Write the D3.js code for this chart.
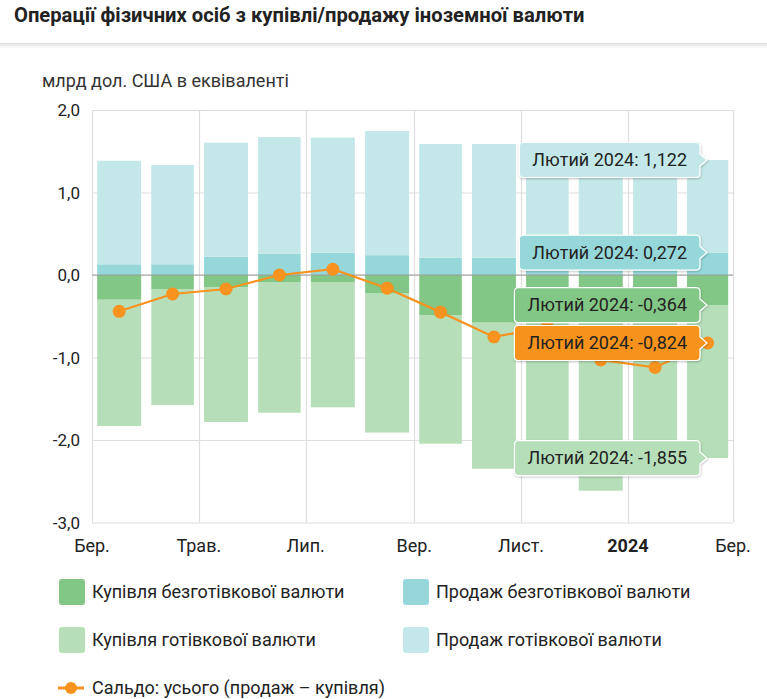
<!DOCTYPE html>
<html><head><meta charset="utf-8">
<script src="https://cdn.jsdelivr.net/npm/d3@7/dist/d3.min.js"></script>
<style>
body{margin:0;background:#fff;}
svg{display:block;font-family:Roboto,"Noto Sans",sans-serif;}
</style></head>
<body><svg id="c" width="767" height="699"></svg>
<script>
// ---- data ----
const months = ["2023-03","2023-04","2023-05","2023-06","2023-07","2023-08","2023-09","2023-10","2023-11","2023-12","2024-01","2024-02"];
const salesNonCash = [0.13, 0.13, 0.22, 0.26, 0.27, 0.24, 0.21, 0.21, 0.20, 0.21, 0.22, 0.272];
const salesCash = [1.255, 1.203, 1.384, 1.413, 1.395, 1.505, 1.378, 1.378, 1.37, 1.375, 1.08, 1.122];
const buyNonCash = [-0.30, -0.17, -0.145, -0.085, -0.085, -0.226, -0.485, -0.578, -0.55, -0.50, -0.45, -0.364];
const buyCash = [-1.53, -1.406, -1.637, -1.584, -1.519, -1.684, -1.56, -1.77, -1.65, -2.115, -1.97, -1.855];
const saldo = [-0.44, -0.23, -0.17, 0.00, 0.07, -0.16, -0.45, -0.75, -0.63, -1.03, -1.12, -0.824];
const yTicks = [-3, -2, -1, 0, 1, 2];
const xTickLabels = ["Бер.", "Трав.", "Лип.", "Вер.", "Лист.", "2024", "Бер."];
const seriesNames = ["Купівля безготівкової валюти", "Продаж безготівкової валюти", "Купівля готівкової валюти", "Продаж готівкової валюти", "Сальдо: усього (продаж – купівля)"];
const title = "Операції фізичних осіб з купівлі/продажу іноземної валюти";
const yTitle = "млрд дол. США в еквіваленті";
const tooltipMonth = "Лютий 2024";

const C = {buyNC:"#82c785", buyC:"#b6dfb9", sellNC:"#96d8da", sellC:"#c4e8e9", saldo:"#f7931e"};

const svg = d3.select("#c");
const parse = d3.timeParse("%Y-%m");
const dates = months.map(parse);

const x = d3.scaleTime().domain([new Date(2023,2,1), new Date(2024,2,1)]).range([92, 733]);
const y = d3.scaleLinear().domain([-3, 2]).range([522.5, 110]);
const fmt = v => d3.format(".1f")(v).replace(".", ",").replace("−","-");
const fmt3 = v => d3.format(".3f")(v).replace(".", ",").replace("−","-");

// title
svg.append("text").attr("x",14).attr("y",22).attr("font-size",20.2).attr("font-weight",700)
  .attr("fill","#222").text(title);
svg.append("rect").attr("x",0).attr("y",43).attr("width",767).attr("height",1).attr("fill","#dcdcdc");
svg.append("rect").attr("x",0).attr("y",44).attr("width",767).attr("height",2).attr("fill","#ececec");
svg.append("rect").attr("x",0).attr("y",46).attr("width",767).attr("height",2).attr("fill","#f6f6f6");

svg.append("text").attr("x",42).attr("y",87).attr("font-size",18).attr("fill","#333").text(yTitle);

// grid
const xTicks = x.ticks(d3.timeMonth.every(2));
const g = svg.append("g");
g.selectAll("line.h").data(yTicks).join("line")
  .attr("x1",92).attr("x2",733).attr("y1",d=>y(d)+0.5).attr("y2",d=>y(d)+0.5)
  .attr("stroke","#dedede").attr("stroke-width",1.2);
g.selectAll("line.v").data(xTicks).join("line")
  .attr("x1",d=>Math.round(x(d))+0.5).attr("x2",d=>Math.round(x(d))+0.5).attr("y1",110).attr("y2",522.5)
  .attr("stroke","#dedede").attr("stroke-width",1.2);

// y tick labels
svg.selectAll("text.yt").data(yTicks).join("text")
  .attr("x",80).attr("y",d=>y(d)+6).attr("text-anchor","end").attr("font-size",17).attr("fill","#222")
  .text(fmt);
// x tick labels
svg.selectAll("text.xt").data(xTicks).join("text")
  .attr("x",d=>x(d)).attr("y",552).attr("text-anchor","middle").attr("font-size",18).attr("fill","#222")
  .attr("font-weight",(d,i)=>xTickLabels[i]==="2024"?700:400)
  .text((d,i)=>xTickLabels[i]);

// bars
function bx(d){ const s=x(d), e=x(d3.timeMonth.offset(d,1)); const w=e-s; return [s+w*0.095, w*0.81]; }
const bars = svg.append("g");
dates.forEach((d,i)=>{
  const [bx0,bw]=bx(d);
  const segs = [
    [0, salesNonCash[i], C.sellNC],
    [salesNonCash[i], salesNonCash[i]+salesCash[i], C.sellC],
    [0, buyNonCash[i], C.buyNC],
    [buyNonCash[i], buyNonCash[i]+buyCash[i], C.buyC]
  ];
  segs.forEach(([a,b,col])=>{
    bars.append("rect").attr("x",bx0).attr("width",bw)
      .attr("y",y(Math.max(a,b))).attr("height",Math.abs(y(a)-y(b))).attr("fill",col);
  });
});
// zero line
svg.append("line").attr("x1",92).attr("x2",733).attr("y1",y(0)).attr("y2",y(0)).attr("stroke","#9a9a9a").attr("stroke-width",1);

// saldo line
const mid = d => x(new Date((+d + +d3.timeMonth.offset(d,1))/2));
const line = d3.line().x((v,i)=>mid(dates[i])).y(v=>y(v));
svg.append("path").attr("d",line(saldo)).attr("fill","none").attr("stroke",C.saldo).attr("stroke-width",2.2);
svg.selectAll("circle.s").data(saldo).join("circle")
  .attr("cx",(v,i)=>mid(dates[i])).attr("cy",v=>y(v)).attr("r",6.5).attr("fill",C.saldo);

// tooltips for last month
const L = months.length-1;
const tips = [
  [salesNonCash[L]+salesCash[L], salesCash[L], C.sellC],
  [salesNonCash[L], salesNonCash[L], C.sellNC],
  [buyNonCash[L], buyNonCash[L], C.buyNC],
  [saldo[L], saldo[L], C.saldo],
  [buyNonCash[L]+buyCash[L], buyCash[L], C.buyC]
];
const defs = svg.append("defs");
const f = defs.append("filter").attr("id","sh").attr("x","-10%").attr("y","-30%").attr("width","120%").attr("height","160%");
f.append("feDropShadow").attr("dx",0.5).attr("dy",1).attr("stdDeviation",1.2).attr("flood-color","#000").attr("flood-opacity",0.25);
tips.forEach(([pos,val,col])=>{
  const cy = y(pos);
  const tg = svg.append("g");
  const t = tg.append("text").attr("x",687).attr("y",cy+6).attr("text-anchor","end").attr("font-size",18).attr("fill","#222")
    .text(tooltipMonth + ": " + fmt3(val));
  const tw = t.node().getComputedTextLength();
  const x0 = 687 - tw - 13, x1 = 700, h = 35, r = 4;
  const y0 = cy - h/2, y1 = cy + h/2;
  const p = `M${x0+r},${y0} H${x1-r} Q${x1},${y0} ${x1},${y0+r} V${cy-6} L${x1+7},${cy} L${x1},${cy+6} V${y1-r} Q${x1},${y1} ${x1-r},${y1} H${x0+r} Q${x0},${y1} ${x0},${y1-r} V${y0+r} Q${x0},${y0} ${x0+r},${y0} Z`;
  tg.insert("path","text").attr("d",p).attr("fill",col).attr("stroke","#fff").attr("stroke-width",1.2).attr("filter","url(#sh)");
});

// legend
const leg = svg.append("g");
const legItems = [
  [59, 579, C.buyNC, seriesNames[0]],
  [403, 579, C.sellNC, seriesNames[1]],
  [59, 627, C.buyC, seriesNames[2]],
  [403, 627, C.sellC, seriesNames[3]]
];
legItems.forEach(([lx,ly,col,name])=>{
  leg.append("rect").attr("x",lx).attr("y",ly).attr("width",26).attr("height",26).attr("rx",3).attr("fill",col);
  leg.append("text").attr("x",lx+33).attr("y",ly+19).attr("font-size",18).attr("fill","#222").text(name);
});
leg.append("line").attr("x1",58).attr("x2",84).attr("y1",688).attr("y2",688).attr("stroke",C.saldo).attr("stroke-width",3);
leg.append("circle").attr("cx",71).attr("cy",688).attr("r",6).attr("fill",C.saldo);
leg.append("text").attr("x",92).attr("y",694).attr("font-size",18).attr("fill","#222").text(seriesNames[4]);
</script></body></html>
